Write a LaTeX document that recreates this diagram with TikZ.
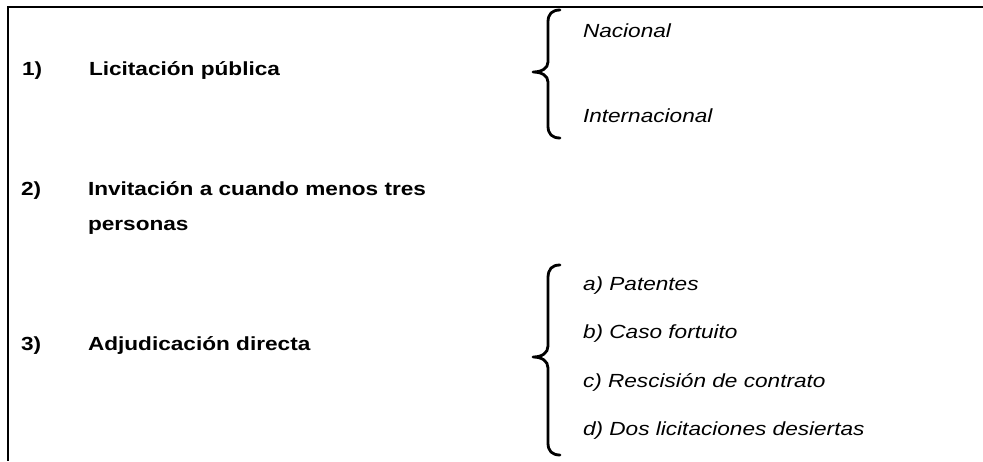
\documentclass[tikz,border=0pt]{standalone}
\usepackage{fontspec}
\setmainfont{Liberation Sans}[FakeStretch=1.19]
\begin{document}
\begin{tikzpicture}[x=1pt,y=-1pt,
  every node/.style={inner sep=0pt,outer sep=0pt,anchor=base west,font=\fontsize{19}{22}\selectfont},
  main/.style={font=\fontsize{19}{22}\selectfont\bfseries},
  sub/.style={font=\fontsize{19}{22}\selectfont\itshape},
  frame/.style={line width=2.4pt,black},
  bracestyle/.style={line width=2.8pt,black,line cap=round,line join=round}]
\useasboundingbox (0,0) rectangle (983,461);
% frame
\coordinate (fc) at (8,7);
\coordinate (fr) at (983,7);
\coordinate (fb) at (8,461);
\draw[frame] (fr) -- (fc) -- (fb);
% items
\node[main] (n1) at (22,75) {1)};
\node[main] (t1) at (89,75) {Licitación pública};
\node[main] (n2) at (21,195) {2)};
\node[main] (t2) at (88,195) {Invitación a cuando menos tres};
\node[main] (t2b) at (88,230) {personas};
\node[main] (n3) at (21,350) {3)};
\node[main] (t3) at (88,350) {Adjudicación directa};
% sub items
\node[sub] (nac) at (583,37) {Nacional};
\node[sub] (int) at (583,122) {Internacional};
\node[sub] (a) at (583,290) {a) Patentes};
\node[sub] (b) at (583,338) {b) Caso fortuito};
\node[sub] (c) at (583,387) {c) Rescisión de contrato};
\node[sub] (d) at (583,435) {d) Dos licitaciones desiertas};
% braces
\draw[bracestyle] (560,10) .. controls (552,10) and (548,14) .. (548,22)
  -- (548,62) .. controls (548,68) and (542,72) .. (533,72)
  .. controls (542,72) and (548,76) .. (548,82)
  -- (548,126) .. controls (548,134) and (552,138) .. (560,138);
\draw[bracestyle] (560,265) .. controls (552,265) and (548,269) .. (548,278)
  -- (548,346) .. controls (548,353) and (542,357) .. (533,357)
  .. controls (542,357) and (548,361) .. (548,368)
  -- (548,443) .. controls (548,451) and (552,455) .. (560,455);
\end{tikzpicture}
\end{document}
